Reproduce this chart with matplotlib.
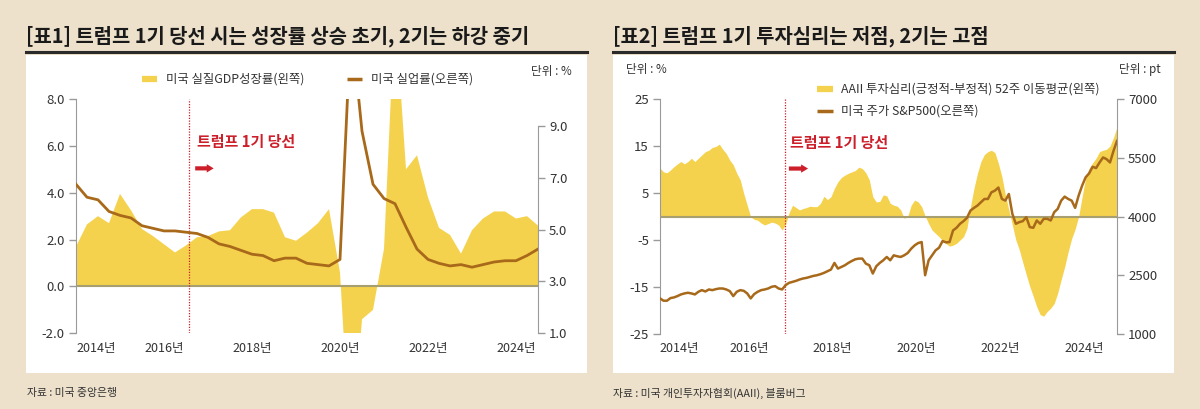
import numpy as np
import pandas as pd
import matplotlib
matplotlib.use("Agg")
import matplotlib.pyplot as plt
from matplotlib.lines import Line2D
from matplotlib.patches import Rectangle
from matplotlib import font_manager

# ---------------- data ----------------
# Chart 1: quarterly, 2014Q1 .. 2024Q3
quarters = pd.period_range("2014Q1", "2024Q3", freq="Q")
gdp_growth = [1.7, 2.65, 3.0, 2.7, 3.95, 3.25, 2.45, 2.15, 1.8, 1.45,
              1.75, 2.1, 2.15, 2.35, 2.4, 2.95, 3.3, 3.3, 3.15, 2.1,
              1.95, 2.3, 2.7, 3.3, 0.6, -7.5, -1.4, -1.0, 1.6, 12.0,
              5.0, 5.6, 3.8, 2.5, 2.2, 1.4, 2.4, 2.9, 3.2, 3.2,
              2.9, 3.0, 2.6]
unemployment = [6.75, 6.25, 6.15, 5.7, 5.55, 5.45, 5.15, 5.05, 4.95, 4.95,
                4.9, 4.85, 4.7, 4.45, 4.35, 4.2, 4.05, 4.0, 3.8, 3.9,
                3.9, 3.7, 3.65, 3.6, 3.85, 13.0, 8.8, 6.75, 6.2, 6.0,
                5.1, 4.25, 3.85, 3.7, 3.6, 3.65, 3.55, 3.65, 3.75, 3.8,
                3.8, 4.0, 4.25]

# Chart 2: monthly, 2013-11 .. 2024-10
months = pd.period_range("2013-11", "2024-10", freq="M")
aaii_spread = [10.3, 9.5, 9.3, 9.9, 10.6, 11.2, 11.7, 11.2, 11.7, 12.4,
               11.7, 12.4, 13.1, 13.8, 14.1, 14.7, 14.9, 15.4, 14.3, 13.4,
               12.0, 11.0, 9.2, 7.8, 4.9, 2.4, -0.1, -0.6, -0.8, -1.4,
               -1.8, -1.5, -1.2, -1.4, -1.8, -2.9, -1.6, 0.8, 2.4, 1.9,
               1.4, 1.7, 1.9, 2.2, 2.1, 2.1, 2.8, 4.3, 3.6, 4.2,
               6.0, 7.4, 8.3, 8.8, 9.2, 9.5, 9.8, 10.5, 10.2, 9.3,
               7.8, 4.2, 3.1, 3.2, 4.6, 4.4, 2.8, 2.4, 2.2, 1.4,
               -0.4, 0.0, 2.4, 3.5, 3.1, 2.1, 0.1, -1.5, -2.9, -3.6,
               -4.3, -5.1, -5.8, -6.3, -6.1, -5.7, -5.0, -4.3, -2.5, 2.1,
               6.0, 9.2, 11.7, 13.2, 13.8, 14.1, 13.6, 11.3, 8.5, 4.6,
               1.4, -1.8, -5.0, -7.1, -9.8, -12.4, -14.9, -17.0, -19.2, -20.9,
               -21.2, -20.2, -19.5, -18.5, -16.3, -13.4, -10.7, -7.5, -4.7, -2.7,
               0.0, 4.2, 8.1, 10.2, 11.4, 12.4, 13.8, 14.1, 14.3, 15.0,
               16.8, 19.1]
sp500 = [1909, 1850, 1850, 1917, 1934, 1968, 2010, 2036, 2053, 2036,
         2010, 2078, 2120, 2086, 2137, 2120, 2145, 2162, 2162, 2137,
         2095, 1968, 2078, 2120, 2103, 2036, 1909, 2019, 2078, 2120,
         2137, 2162, 2205, 2222, 2162, 2137, 2247, 2306, 2332, 2357,
         2391, 2417, 2433, 2459, 2484, 2501, 2527, 2560, 2603, 2645,
         2815, 2670, 2713, 2755, 2815, 2865, 2908, 2925, 2925, 2798,
         2755, 2544, 2730, 2815, 2882, 2967, 2882, 3009, 2984, 2967,
         3009, 3068, 3178, 3263, 3322, 3348, 2500, 2882, 3009, 3136,
         3204, 3373, 3340, 3348, 3644, 3712, 3814, 3882, 3966, 4152,
         4220, 4279, 4364, 4448, 4448, 4618, 4660, 4740, 4448, 4406,
         4575, 4067, 3814, 3856, 3882, 3983, 3729, 3712, 3898, 3814,
         3941, 3941, 3898, 4110, 4194, 4406, 4508, 4448, 4406, 4220,
         4533, 4787, 4999, 5101, 5270, 5236, 5380, 5507, 5465, 5380,
         5676, 5930]

year_labels = ["2014년", "2016년", "2018년", "2020년", "2022년", "2024년"]
left1_ticks = [-2, 0, 2, 4, 6, 8]
right1_ticks = [1, 3, 5, 7, 9]
left2_ticks = [-25, -15, -5, 5, 15, 25]
right2_ticks = [1000, 2500, 4000, 5500, 7000]

# ---------------- style ----------------
BG = "#EDE1CB"
YEL = "#F5D24D"
BROWN = "#A8691A"
OLIVE = "#A89F70"
RED = "#CC1F2A"
GRAY = "#9A9A9A"
TXT = "#333333"

names = {f.name for f in font_manager.fontManager.ttflist}
KR = "Noto Sans CJK KR"
NARROW = [n for n in ["Liberation Sans Narrow"] if n in names]
TICKFAM = NARROW + [KR, "DejaVu Sans"]
plt.rcParams["font.family"] = [KR, "DejaVu Sans"]

W, H = 1200, 409
fig = plt.figure(figsize=(12, 4.09), dpi=100)
fig.patch.set_facecolor(BG)


def fx(px):
    return px / W


def fy(py):
    return 1 - py / H


# panels
for x0, x1 in [(26, 587), (613, 1174)]:
    fig.add_artist(Rectangle((fx(x0), fy(373)), fx(x1) - fx(x0), fy(55) - fy(373),
                             transform=fig.transFigure, facecolor="white",
                             edgecolor="none", zorder=0))
# title rules
for x0, x1 in [(26, 587), (613, 1174)]:
    fig.add_artist(Line2D([fx(x0), fx(x1)], [fy(52), fy(52)], color="#2A2A2A",
                          lw=2.2, transform=fig.transFigure))

fig.text(fx(26), fy(36), "[표1] 트럼프 1기 당선 시는 성장률 상승 초기, 2기는 하강 중기",
         fontsize=14.3, fontweight="heavy", color="#1A1A1A", va="center", ha="left")
fig.text(fx(613), fy(36), "[표2] 트럼프 1기 투자심리는 저점, 2기는 고점",
         fontsize=14.3, fontweight="heavy", color="#1A1A1A", va="center", ha="left")

fig.text(fx(27), fy(393), "자료 : 미국 중앙은행", fontsize=7.8, color=TXT, va="center")
fig.text(fx(613), fy(393), "자료 : 미국 개인투자자협회(AAII), 블룸버그", fontsize=7.8,
         color=TXT, va="center")


def style_axes(ax, axr):
    for a in (ax, axr):
        a.set_facecolor("none")
        for s in ["top", "bottom"]:
            a.spines[s].set_visible(False)
    ax.spines["right"].set_visible(False)
    axr.spines["left"].set_visible(False)
    ax.spines["left"].set_color(GRAY)
    axr.spines["right"].set_color(GRAY)
    ax.tick_params(axis="y", colors=GRAY, length=5, width=1, labelcolor=TXT, labelsize=9.5, pad=3)
    axr.tick_params(axis="y", colors=GRAY, length=5, width=1, labelcolor=TXT, labelsize=9.5, pad=3)
    ax.tick_params(axis="x", length=0, labelcolor=TXT, labelsize=9, pad=6)
    for lab in ax.get_yticklabels() + axr.get_yticklabels() + ax.get_xticklabels():
        lab.set_family(TICKFAM)


def add_arrow(ax, x0, x1, y):
    ax.annotate("", xy=(x1, y), xytext=(x0, y), xycoords="axes fraction",
                arrowprops=dict(arrowstyle="simple,head_length=0.5,head_width=0.6,tail_width=0.3",
                                fc=RED, ec=RED, lw=0, shrinkA=0, shrinkB=0,
                                mutation_scale=10))


# ---------------- chart 1 ----------------
xq = quarters.year + (quarters.quarter - 1) / 4
ax1 = fig.add_axes([fx(76), fy(333.3), (538 - 76) / W, (333.3 - 99) / H])
ax1.fill_between(xq, 0, gdp_growth, color=YEL, lw=0, zorder=1)
ax1.axhline(0, color=OLIVE, lw=1.5, zorder=2)
ax1.axvline(2014 + 10.3 / 4, color=RED, ls=(0, (1, 1.2)), lw=0.9, zorder=3)
ax1.set_xlim(xq[0], xq[-1])
ax1.set_ylim(-2, 8)
ax1.set_yticks(left1_ticks)
ax1.set_yticklabels([f"{v:.1f}" for v in left1_ticks])
ax1.set_xticks([2014.45, 2016, 2018, 2020, 2022, 2024])
ax1.set_xticklabels(year_labels)
ax1r = ax1.twinx()
ax1r.plot(xq, unemployment, color=BROWN, lw=2.0, zorder=4)
ax1r.set_ylim(1, 10.04)
ax1r.set_yticks(right1_ticks)
ax1r.set_yticklabels([f"{v:.1f}" for v in right1_ticks])
ax1r.spines["right"].set_bounds(1, 9)
style_axes(ax1, ax1r)
ax1.text(0.262, 0.816, "트럼프 1기 당선", transform=ax1.transAxes, color=RED,
         fontsize=10.8, fontweight="bold", va="center", ha="left")
add_arrow(ax1, 0.258, 0.298, 0.704)

# legend 1
fig.add_artist(Line2D([fx(142), fx(157)], [fy(79), fy(79)], color=YEL, lw=4.5,
                      solid_capstyle="butt", transform=fig.transFigure))
fig.text(fx(166), fy(79), "미국 실질GDP성장률(왼쪽)", fontsize=8.9, color=TXT, va="center")
fig.add_artist(Line2D([fx(347), fx(362)], [fy(79), fy(79)], color=BROWN, lw=2.5,
                      solid_capstyle="butt", transform=fig.transFigure))
fig.text(fx(371), fy(79), "미국 실업률(오른쪽)", fontsize=8.9, color=TXT, va="center")
fig.text(fx(572), fy(72), "단위 : %", fontsize=8.4, color=TXT, va="center", ha="right")

# ---------------- chart 2 ----------------
xm = months.year + (months.month - 0.5) / 12
ax2 = fig.add_axes([fx(660), fy(334), (1117 - 660) / W, (334 - 99) / H])
ax2.fill_between(xm, 0, aaii_spread, color=YEL, lw=0, zorder=1)
ax2.axhline(0, color=OLIVE, lw=1.5, zorder=2)
ax2.axvline(2016.85, color=RED, ls=(0, (1, 1.2)), lw=0.9, zorder=3)
ax2.set_xlim(xm[0], xm[-1])
ax2.set_ylim(-25, 25)
ax2.set_yticks(left2_ticks)
ax2.set_yticklabels([str(v) for v in left2_ticks])
ax2.set_xticks([2014.33, 2016, 2018, 2020, 2022, 2024])
ax2.set_xticklabels(year_labels)
ax2r = ax2.twinx()
ax2r.plot(xm, sp500, color=BROWN, lw=1.8, zorder=4)
ax2r.set_ylim(1000, 7000)
ax2r.set_yticks(right2_ticks)
ax2r.set_yticklabels([str(v) for v in right2_ticks])
style_axes(ax2, ax2r)
ax2.text(0.284, 0.813, "트럼프 1기 당선", transform=ax2.transAxes, color=RED,
         fontsize=10.8, fontweight="bold", va="center", ha="left")
add_arrow(ax2, 0.282, 0.324, 0.704)

# legend 2
fig.add_artist(Line2D([fx(817), fx(833)], [fy(89), fy(89)], color=YEL, lw=4.5,
                      solid_capstyle="butt", transform=fig.transFigure))
fig.text(fx(841), fy(89), "AAII 투자심리(긍정적-부정적) 52주 이동평균(왼쪽)", fontsize=8.9,
         color=TXT, va="center")
fig.add_artist(Line2D([fx(817), fx(833)], [fy(111), fy(111)], color=BROWN, lw=2.5,
                      solid_capstyle="butt", transform=fig.transFigure))
fig.text(fx(841), fy(111), "미국 주가 S&P500(오른쪽)", fontsize=8.9, color=TXT, va="center")
fig.text(fx(626), fy(70), "단위 : %", fontsize=8.4, color=TXT, va="center", ha="left")
fig.text(fx(1119), fy(70), "단위 : pt", fontsize=8.4, color=TXT, va="center", ha="left")

fig.savefig("out.png", dpi=100, facecolor=BG)
